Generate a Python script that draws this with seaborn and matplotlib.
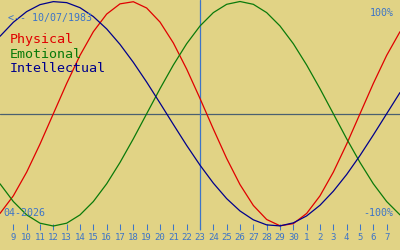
import matplotlib
matplotlib.use("Agg")
import matplotlib.pyplot as plt
import seaborn as sns
import pandas as pd

# Day labels: 8 April 2026 .. 8 May 2026
days = ["8", "9", "10", "11", "12", "13", "14", "15", "16", "17", "18", "19", "20",
        "21", "22", "23", "24", "25", "26", "27", "28", "29", "30",
        "1", "2", "3", "4", "5", "6", "7", "8"]

physical = [-0.888, -0.731, -0.520, -0.270, 0.000, 0.270, 0.520, 0.731, 0.888, 0.979,
            0.998, 0.942, 0.817, 0.631, 0.398, 0.136, -0.136, -0.398, -0.631, -0.817,
            -0.942, -0.998, -0.979, -0.888, -0.731, -0.520, -0.270, 0.000, 0.270, 0.520,
            0.731]
emotional = [-0.624, -0.782, -0.901, -0.975, -1.000, -0.975, -0.901, -0.782, -0.624, -0.434,
             -0.223, 0.000, 0.223, 0.434, 0.624, 0.782, 0.901, 0.975, 1.000, 0.975,
             0.901, 0.782, 0.624, 0.434, 0.223, 0.000, -0.223, -0.434, -0.624, -0.782,
             -0.901]
intellectual = [0.690, 0.815, 0.910, 0.972, 0.999, 0.990, 0.945, 0.866, 0.756, 0.618,
                0.458, 0.282, 0.095, -0.095, -0.282, -0.458, -0.618, -0.756, -0.866, -0.945,
                -0.990, -0.999, -0.972, -0.910, -0.815, -0.690, -0.541, -0.372, -0.189, 0.000,
                0.189]

series_names = ["Physical", "Emotional", "Intellectual"]
series_colors = ["#e00000", "#0a7a0a", "#00008c"]
today_label = "23"
birth_text = "<-- 10/07/1983"
month_text = "04-2026"

BG = "#e1d385"
BLUE = "#3c74c8"

sns.set_theme(style="white")
plt.rcParams["font.family"] = ["DejaVu Sans Mono", "DejaVu Sans"]

fig = plt.figure(figsize=(4, 2.5), dpi=100, facecolor=BG)
ax = fig.add_axes([0, 0.08, 1, 0.92])
ax.set_facecolor(BG)

pos = list(range(len(days)))
df = pd.DataFrame({"pos": pos, "Physical": physical, "Emotional": emotional,
                   "Intellectual": intellectual})

# zero line
ax.axhline(0, color="#4a6070", lw=0.9, zorder=1)
# today line
today_pos = days.index(today_label)
ax.axvline(today_pos, color=BLUE, lw=0.9, zorder=1)

for name, col in zip(series_names, series_colors):
    sns.lineplot(data=df, x="pos", y=name, color=col, lw=0.9, ax=ax,
                 legend=False, zorder=3)

ax.set_xlim(0, len(days) - 1)
ax.set_ylim(-1.0356, 1.0134)
ax.set_xlabel("")
ax.set_ylabel("")
ax.set_yticks([])
ax.set_xticks(pos[1:-1])
ax.set_xticklabels(days[1:-1])
ax.tick_params(axis="x", direction="in", length=4.3, width=0.75, color=BLUE,
               labelcolor=BLUE, labelsize=6.5, pad=2.4, bottom=True)
for s in ax.spines.values():
    s.set_visible(False)

def ftxt(x, y, s, **kw):
    fig.text(x / 400, 1 - y / 250, s, va="baseline", **kw)

ftxt(8.5, 20.7, birth_text, color=BLUE, fontsize=7.2, ha="left")
ftxt(393.5, 16, "100%", color=BLUE, fontsize=7.2, ha="right")
ftxt(393.5, 216, "-100%", color=BLUE, fontsize=7.2, ha="right")
ftxt(3, 216, month_text, color=BLUE, fontsize=7.2, ha="left")

for name, col, yb in zip(series_names, series_colors, [43, 57.6, 72.4]):
    ftxt(9.5, yb, name, color=col, fontsize=9.6, ha="left")

fig.savefig("out.png", dpi=100, facecolor=BG)
